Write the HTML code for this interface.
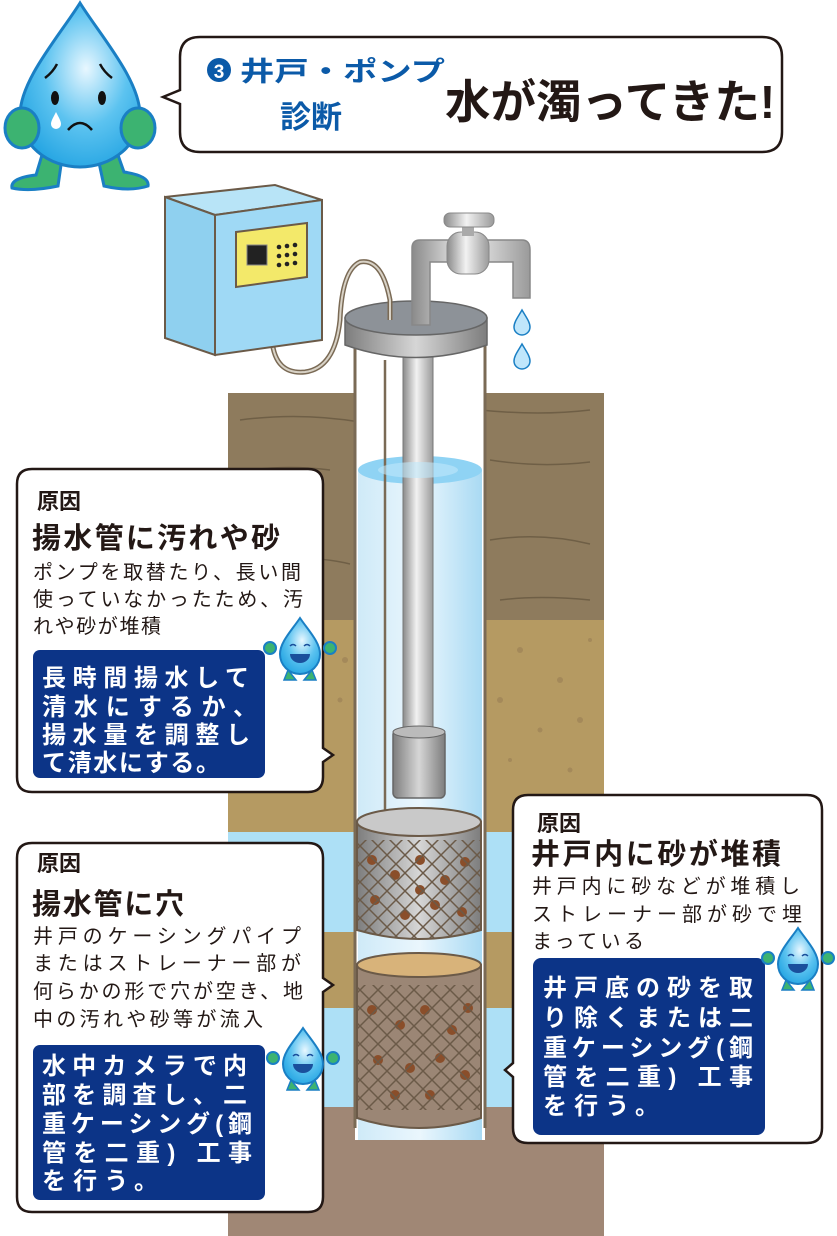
<!DOCTYPE html>
<html><head><meta charset="utf-8"><style>
html,body{margin:0;padding:0;background:#fff;}
svg{display:block;}
text{font-family:"Liberation Sans","Noto Sans CJK JP",sans-serif;}
</style></head><body>
<svg width="837" height="1236" viewBox="0 0 837 1236" xmlns="http://www.w3.org/2000/svg">
<defs>
<linearGradient id="pipe" x1="0" x2="1"><stop offset="0" stop-color="#8a8a8a"/><stop offset=".45" stop-color="#f2f2f2"/><stop offset="1" stop-color="#9a9a9a"/></linearGradient>
<linearGradient id="water" x1="0" x2="1"><stop offset="0" stop-color="#cfeaf8"/><stop offset=".5" stop-color="#eaf6fd"/><stop offset="1" stop-color="#a9daf3"/></linearGradient>
<radialGradient id="drop" cx=".55" cy=".4" r=".7"><stop offset="0" stop-color="#e8f7ff"/><stop offset=".5" stop-color="#5cc3f0"/><stop offset="1" stop-color="#1a9fe0"/></radialGradient>
<linearGradient id="strn" x1="0" x2="1"><stop offset="0" stop-color="#7d7d7d"/><stop offset=".5" stop-color="#d6d6d6"/><stop offset="1" stop-color="#7d7d7d"/></linearGradient>
<pattern id="net" width="18" height="18" patternUnits="userSpaceOnUse"><path d="M0 0L18 18M18 0L0 18" stroke="#6b5a48" stroke-width="1.5"/></pattern>
<g id="mini">
<circle cx="-30" cy="8" r="6" fill="#3cb371" stroke="#1a7fc4" stroke-width="2"/><circle cx="30" cy="8" r="6" fill="#3cb371" stroke="#1a7fc4" stroke-width="2"/>
<path d="M-12 30l-4 10h12zM12 30l4 10h-12z" fill="#3cb371" stroke="#1a7fc4" stroke-width="1.5"/>
<path d="M0 -22C8 -10 20 2 20 14 A20 20 0 0 1 -20 14C-20 2 -8 -10 0 -22Z" fill="url(#drop)" stroke="#1a7fc4" stroke-width="2"/>
<path d="M-10 14a10 9 0 0 0 20 0z" fill="#1a4f9c"/>
<path d="M-10 6q3-3 6 0M4 6q3-3 6 0" stroke="#1a4f9c" stroke-width="1.5" fill="none"/>
</g>
</defs>

<rect x="228" y="393" width="376" height="228" fill="#8e7b5d"/>
<path d="M240 420q60-8 120 2M480 410q60 6 110 0M250 470q40-5 80 0M490 460q50 8 100 2M240 560q70-6 110 4M490 540q50-8 100 4M500 600q40 -5 90 0M240 610q40 4 80-2" stroke="#6f5f46" stroke-width="1.5" fill="none"/>
<rect x="228" y="620" width="376" height="212" fill="#b59a62"/>
<g fill="#a4895a"><circle cx="345" cy="660" r="3"/><circle cx="520" cy="650" r="3"/><circle cx="560" cy="680" r="3"/><circle cx="590" cy="640" r="2"/><circle cx="500" cy="700" r="3"/><circle cx="540" cy="730" r="2.5"/><circle cx="580" cy="720" r="3"/><circle cx="510" cy="760" r="2"/><circle cx="340" cy="700" r="2.5"/><circle cx="570" cy="770" r="2.5"/></g>
<rect x="228" y="832" width="376" height="100" fill="#ade0f6"/>
<rect x="228" y="932" width="376" height="76" fill="#b59a62"/>
<rect x="228" y="1008" width="376" height="99" fill="#ade0f6"/>
<rect x="228" y="1107" width="376" height="129" fill="#a08775"/>

<rect x="355" y="340" width="130" height="800" fill="#fff"/>
<rect x="358" y="470" width="124" height="670" fill="url(#water)"/>
<ellipse cx="420" cy="470" rx="62" ry="14" fill="#8fd3f4"/>
<line x1="355" y1="340" x2="355" y2="1128" stroke="#7a6a55" stroke-width="3"/>
<line x1="485" y1="340" x2="485" y2="1128" stroke="#7a6a55" stroke-width="3"/>
<line x1="385" y1="360" x2="385" y2="820" stroke="#7a6a55" stroke-width="2.5"/>

<rect x="403" y="340" width="30" height="392" fill="url(#pipe)" stroke="#777" stroke-width="1"/>
<ellipse cx="418" cy="470" rx="40" ry="8" fill="#bfe8fa" opacity=".6"/>
<rect x="393" y="730" width="52" height="68" rx="5" fill="url(#strn)" stroke="#666" stroke-width="1.5"/>
<ellipse cx="419" cy="732" rx="26" ry="6" fill="#bbb" stroke="#666"/>

<path d="M357 822 L357 930 Q419 948 481 930 L481 822Z" fill="url(#strn)" stroke="#6b5a48" stroke-width="2"/>
<ellipse cx="419" cy="822" rx="62" ry="14" fill="#c9c9c9" stroke="#6b5a48" stroke-width="2"/>
<g fill="#8a4e2a"><circle cx="372" cy="860" r="5"/><circle cx="395" cy="875" r="5"/><circle cx="420" cy="860" r="5"/><circle cx="445" cy="880" r="5"/><circle cx="465" cy="862" r="5"/><circle cx="375" cy="900" r="5"/><circle cx="405" cy="915" r="5"/><circle cx="435" cy="905" r="5"/><circle cx="462" cy="912" r="5"/><circle cx="420" cy="890" r="5"/></g>
<path d="M357 840 L357 930 Q419 948 481 930 L481 840Z" fill="url(#net)"/>

<path d="M357 965 L357 1118 Q419 1138 481 1118 L481 965Z" fill="#9b8675" stroke="#6b5a48" stroke-width="2"/>
<ellipse cx="419" cy="965" rx="62" ry="12" fill="#d8b37a" stroke="#6b5a48" stroke-width="2"/>
<g fill="#8a4e2a"><circle cx="372" cy="1010" r="5"/><circle cx="400" cy="1025" r="5"/><circle cx="425" cy="1010" r="5"/><circle cx="452" cy="1030" r="5"/><circle cx="468" cy="1008" r="5"/><circle cx="378" cy="1060" r="5"/><circle cx="410" cy="1068" r="5"/><circle cx="440" cy="1058" r="5"/><circle cx="465" cy="1075" r="5"/><circle cx="395" cy="1095" r="5"/><circle cx="430" cy="1095" r="5"/></g>
<path d="M357 985 L357 1110 L481 1110 L481 985Z" fill="url(#net)"/>

<path d="M345 318 L345 345 Q416 370 487 345 L487 318Z" fill="url(#strn)" stroke="#666" stroke-width="1.5"/>
<ellipse cx="416" cy="318" rx="71" ry="17" fill="#8d9298" stroke="#666" stroke-width="1.5"/>
<path d="M412 325 L412 248 Q412 240 420 240 L522 240 Q530 240 530 250 L530 298 L513 298 L513 262 L430 262 L430 325Z" fill="url(#pipe)" stroke="#888" stroke-width="1.5"/>
<rect x="447" y="232" width="42" height="42" rx="14" fill="url(#pipe)" stroke="#888"/>
<rect x="462" y="222" width="12" height="14" fill="#aaa"/>
<rect x="444" y="213" width="50" height="14" rx="6" fill="url(#pipe)" stroke="#888"/>
<path d="M522 310c4 7 8 12 8 17a8 8 0 0 1-16 0c0-5 4-10 8-17z" fill="#bfe6fb" stroke="#1a7fc4" stroke-width="1.5"/>
<path d="M522 344c4 7 8 12 8 17a8 8 0 0 1-16 0c0-5 4-10 8-17z" fill="#bfe6fb" stroke="#1a7fc4" stroke-width="1.5"/>

<path d="M272 340 Q275 375 305 372 Q335 368 340 320 Q342 270 360 262 Q382 258 390 300 L390 320" stroke="#7a6a55" stroke-width="5" fill="none"/>
<path d="M272 340 Q275 375 305 372 Q335 368 340 320 Q342 270 360 262 Q382 258 390 300 L390 320" stroke="#d8d2c6" stroke-width="2" fill="none"/>
<path d="M165 197 L275 185 L322 200 L215 215Z" fill="#b8e4f7" stroke="#6b5a48" stroke-width="2"/>
<path d="M165 197 L215 215 L215 355 L165 338Z" fill="#8fd0ef" stroke="#6b5a48" stroke-width="2"/>
<path d="M215 215 L322 200 L322 340 L215 355Z" fill="#9fd9f5" stroke="#6b5a48" stroke-width="2"/>
<path d="M236 232 L307 223 L307 277 L236 287Z" fill="#f3e96a" stroke="#6b5a48" stroke-width="2"/>
<rect x="247" y="245" width="20" height="20" fill="#222" stroke="#888"/>
<g fill="#222"><circle cx="279" cy="247" r="2.3"/><circle cx="287" cy="246" r="2.3"/><circle cx="295" cy="245" r="2.3"/><circle cx="279" cy="256" r="2.3"/><circle cx="287" cy="255" r="2.3"/><circle cx="295" cy="254" r="2.3"/><circle cx="279" cy="265" r="2.3"/><circle cx="287" cy="264" r="2.3"/><circle cx="295" cy="263" r="2.3"/></g>

<path d="M42 155 L36 175 Q10 178 12 188 Q30 192 58 186 L62 158Z" fill="#3cb371" stroke="#1a7fc4" stroke-width="3"/>
<path d="M98 158 L104 186 Q130 192 148 186 Q150 176 124 172 L118 155Z" fill="#3cb371" stroke="#1a7fc4" stroke-width="3"/>
<path d="M80 3C100 35 140 80 140 115 A60 52 0 0 1 20 115 C20 80 60 35 80 3Z" fill="url(#drop)" stroke="#1a7fc4" stroke-width="3"/>
<ellipse cx="22" cy="128" rx="17" ry="20" fill="#3cb371" stroke="#1a7fc4" stroke-width="3"/>
<ellipse cx="138" cy="128" rx="17" ry="20" fill="#3cb371" stroke="#1a7fc4" stroke-width="3"/>
<ellipse cx="55" cy="98" rx="4" ry="7" fill="#111"/><ellipse cx="102" cy="98" rx="4" ry="7" fill="#111"/>
<path d="M45 78q8-6 12-14M100 64q4 8 12 14M68 130q12-14 24 0" stroke="#111" stroke-width="2.5" fill="none"/>
<path d="M56 112c3 6 5 9 5 12a5 5 0 0 1-10 0c0-3 2-6 5-12z" fill="#fff"/>

<path d="M200 37 H762 Q782 37 782 57 V132 Q782 152 762 152 H200 Q180 152 180 132 V104 L163 97 L180 90 V57 Q180 37 200 37Z" fill="#fff" stroke="#231815" stroke-width="2.5"/>
<circle cx="219" cy="70" r="12" fill="#0b5aa8"/>
<text x="219" y="78" font-size="19" font-weight="bold" fill="#fff" text-anchor="middle">3</text>
<text x="240" y="81" font-size="27" font-weight="bold" fill="#0b5aa8" textLength="205" lengthAdjust="spacingAndGlyphs">井戸・ポンプ</text>
<text x="280" y="128" font-size="31" font-weight="bold" fill="#0b5aa8">診断</text>
<text x="445" y="118" font-size="46" font-weight="bold" fill="#231815" textLength="330" lengthAdjust="spacingAndGlyphs">水が濁ってきた!</text>

<path d="M32 469 H308 Q323 469 323 484 V748 L333 755 L323 762 V777 Q323 792 308 792 H32 Q17 792 17 777 V484 Q17 469 32 469Z" fill="#fff" stroke="#231815" stroke-width="2.5"/>
<text x="37" y="509" font-size="22" font-weight="bold" fill="#231815">原因</text>
<text x="32" y="548" font-size="29" font-weight="bold" fill="#231815" textLength="248" lengthAdjust="spacing">揚水管に汚れや砂</text>
<g font-size="20" fill="#231815">
<text x="33" y="579" textLength="268" lengthAdjust="spacing">ポンプを取替たり、長い間</text>
<text x="33" y="606" textLength="270" lengthAdjust="spacing">使っていなかったため、汚</text>
<text x="33" y="633" textLength="128" lengthAdjust="spacing">れや砂が堆積</text>
</g>
<rect x="33" y="650" width="232" height="128" rx="7" fill="#0c3487"/>
<g font-size="24" font-weight="bold" fill="#fff">
<text x="42" y="686" textLength="207" lengthAdjust="spacing">長時間揚水して</text>
<text x="42" y="715" textLength="215" lengthAdjust="spacing">清水にするか、</text>
<text x="42" y="743" textLength="208" lengthAdjust="spacing">揚水量を調整し</text>
<text x="42" y="771" textLength="178" lengthAdjust="spacing">て清水にする。</text>
</g>
<use href="#mini" transform="translate(300,640)"/>

<path d="M32 843 H308 Q323 843 323 858 V978 L333 985 L323 992 V1197 Q323 1212 308 1212 H32 Q17 1212 17 1197 V858 Q17 843 32 843Z" fill="#fff" stroke="#231815" stroke-width="2.5"/>
<text x="37" y="871" font-size="22" font-weight="bold" fill="#231815">原因</text>
<text x="32" y="914" font-size="29" font-weight="bold" fill="#231815" textLength="152" lengthAdjust="spacing">揚水管に穴</text>
<g font-size="20" fill="#231815">
<text x="33" y="943" textLength="268" lengthAdjust="spacing">井戸のケーシングパイプ</text>
<text x="33" y="970" textLength="268" lengthAdjust="spacing">またはストレーナー部が</text>
<text x="33" y="998" textLength="270" lengthAdjust="spacing">何らかの形で穴が空き、地</text>
<text x="33" y="1026" textLength="230" lengthAdjust="spacing">中の汚れや砂等が流入</text>
</g>
<rect x="33" y="1045" width="232" height="155" rx="7" fill="#0c3487"/>
<g font-size="24" font-weight="bold" fill="#fff">
<text x="42" y="1074" textLength="205" lengthAdjust="spacing">水中カメラで内</text>
<text x="42" y="1103" textLength="205" lengthAdjust="spacing">部を調査し、二</text>
<text x="42" y="1132" textLength="210" lengthAdjust="spacing">重ケーシング(鋼</text>
<text x="42" y="1161" textLength="210" lengthAdjust="spacing">管を二重) 工事</text>
<text x="42" y="1189" textLength="116" lengthAdjust="spacing">を行う。</text>
</g>
<use href="#mini" transform="translate(303,1050)"/>

<path d="M528 795 H807 Q822 795 822 810 V1128 Q822 1143 807 1143 H528 Q513 1143 513 1128 V1077 L505 1070 L513 1063 V810 Q513 795 528 795Z" fill="#fff" stroke="#231815" stroke-width="2.5"/>
<text x="537" y="831" font-size="22" font-weight="bold" fill="#231815">原因</text>
<text x="531" y="864" font-size="29" font-weight="bold" fill="#231815" textLength="250" lengthAdjust="spacing">井戸内に砂が堆積</text>
<g font-size="20" fill="#231815">
<text x="532" y="893" textLength="268" lengthAdjust="spacing">井戸内に砂などが堆積し</text>
<text x="532" y="921" textLength="270" lengthAdjust="spacing">ストレーナー部が砂で埋</text>
<text x="532" y="948" textLength="112" lengthAdjust="spacing">まっている</text>
</g>
<rect x="533" y="958" width="232" height="177" rx="8" fill="#0c3487"/>
<g font-size="24" font-weight="bold" fill="#fff">
<text x="543" y="996" textLength="210" lengthAdjust="spacing">井戸底の砂を取</text>
<text x="543" y="1026" textLength="210" lengthAdjust="spacing">り除くまたは二</text>
<text x="543" y="1056" textLength="210" lengthAdjust="spacing">重ケーシング(鋼</text>
<text x="543" y="1085" textLength="210" lengthAdjust="spacing">管を二重) 工事</text>
<text x="543" y="1114" textLength="116" lengthAdjust="spacing">を行う。</text>
</g>
<use href="#mini" transform="translate(798,950)"/>
</svg>
</body></html>
